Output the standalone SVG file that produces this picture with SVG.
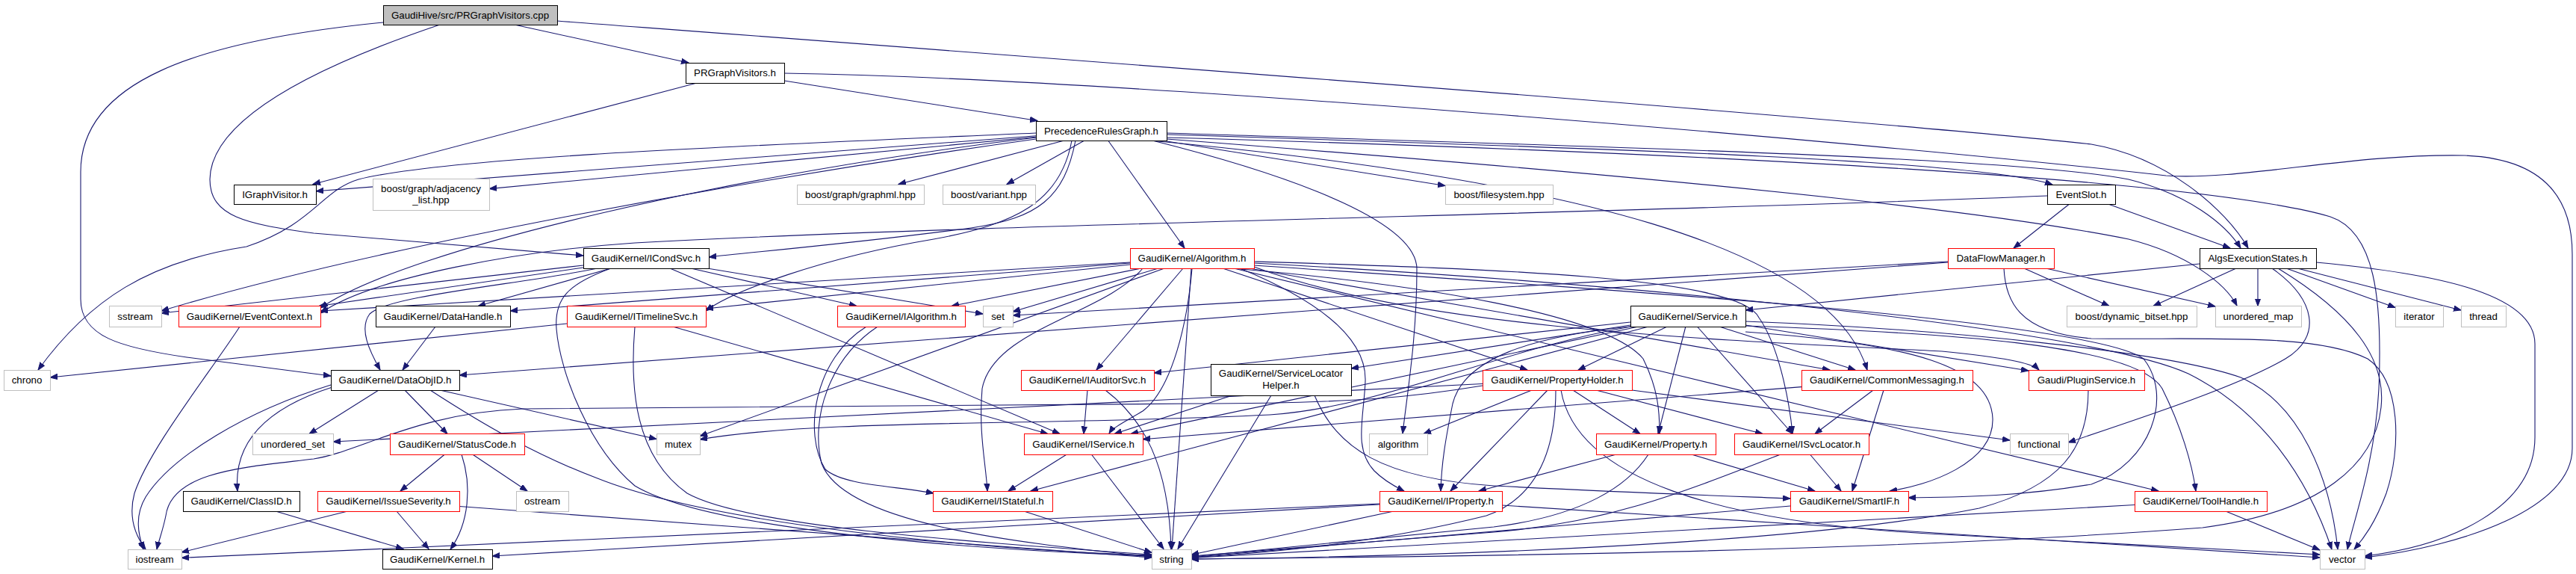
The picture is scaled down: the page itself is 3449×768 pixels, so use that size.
<svg xmlns="http://www.w3.org/2000/svg" width="3449" height="768" viewBox="0 0 3449 768">
<defs>
<marker id="arr" markerWidth="11" markerHeight="9" refX="10" refY="4" orient="auto" markerUnits="userSpaceOnUse"><path d="M0,0.3 L10,4 L0,7.7 z" fill="#191970" stroke="#191970" stroke-width="1"/></marker>
</defs>
<style>
.n rect{fill:#fff;stroke:#000;stroke-width:1}
.n.r rect{stroke:#f00}
.n.s rect{stroke:#bfbfbf}
.n.root rect{fill:#bfbfbf}
text{font-family:"Liberation Sans",Arial,Helvetica,sans-serif;font-size:13.3px;text-anchor:middle;fill:#000}
#edges path{fill:none;stroke:#191970;stroke-width:1.1;marker-end:url(#arr)}
</style>
<rect x="0" y="0" width="3449" height="768" fill="#fff"/>
<g id="edges">
<path d="M691,33.5 L922,84"/>
<path d="M513,30 C260,55 108,110 108,230 L108,400 C108,450 160,465 250,478 L443,503"/>
<path d="M589,33 C420,90 282,160 281,240 C281,290 330,300 420,312 L781,342"/>
<path d="M746,28 C1500,85 2500,160 2800,193 C2900,210 2980,280 3010,332"/>
<path d="M1050,108 L1389,161.5"/>
<path d="M933,111 L419,246.5"/>
<path d="M1050,98 C1500,105 2500,190 2900,235 C3000,242 3150,205 3300,208 C3400,212 3444,260 3444,340 L3444,600 C3444,680 3300,730 3166,746"/>
<path d="M1387,181.7 L423,255.8"/>
<path d="M1387,183.3 L655,252.6"/>
<path d="M1423,188.5 L1203,246.5"/>
<path d="M1451,188.5 L1348,246.5"/>
<path d="M1559,188.5 L1935,248.5"/>
<path d="M1562,180 C2200,200 2650,215 2748,247"/>
<path d="M1440,188 C1425,265 1390,292 1300,305 C1150,325 1000,338 949,344"/>
<path d="M1484,188.5 L1586,332"/>
<path d="M1562,178 C2100,195 2700,210 2850,240 C2930,260 2980,300 3000,332"/>
<path d="M1387,186 C1000,240 500,330 216,416"/>
<path d="M1387,184 C1000,230 550,330 429,412"/>
<path d="M1435,188 C1420,270 1360,300 1250,320 C1100,345 980,390 945,416"/>
<path d="M1562,186 C2400,250 2700,290 2850,320 C2930,340 2980,380 2995,409"/>
<path d="M1387,178 C1000,195 600,210 480,240 C430,255 420,300 330,330 C200,350 120,400 51,495"/>
<path d="M1540,188 C2100,240 2450,330 2500,495"/>
<path d="M1543,188 C1750,240 1897,300 1897,360 C1897,450 1885,520 1878,580"/>
<path d="M1562,184 C2300,205 2950,240 3120,290 C3180,310 3190,400 3185,520 C3180,620 3150,700 3143,735"/>
<path d="M2824,273.5 L2986,332"/>
<path d="M2770,273.5 L2696,332"/>
<path d="M2741,262 C2200,285 1300,300 850,325 C700,335 500,370 429,419"/>
<path d="M781,358 L427,409.5"/>
<path d="M781,355 L216,419"/>
<path d="M800,359 C700,380 520,395 495,420 C480,440 495,470 509,495"/>
<path d="M818,359 L640,409.5"/>
<path d="M925,359 L1147,409.5"/>
<path d="M947,359 L1316,420"/>
<path d="M897,359 L1419,580.5"/>
<path d="M818,359 C760,380 742,400 745,440 C750,500 790,600 850,650 C950,710 1300,735 1542,744"/>
<path d="M1513,351 L429,416"/>
<path d="M1513,352 L683,416"/>
<path d="M1513,354 L945,413"/>
<path d="M1528,359 L1274,409.5"/>
<path d="M1551,359 L1356,417"/>
<path d="M1584,359 L1468,495"/>
<path d="M1637,359 L2045,495"/>
<path d="M1673,359 L2450,495"/>
<path d="M1679,357 C1900,440 2300,455 2600,470 C2680,478 2720,485 2730,495"/>
<path d="M1559,359 L937,583.5"/>
<path d="M1596,359 C1590,430 1570,520 1530,550 C1505,565 1490,572 1485,580"/>
<path d="M1650,359 C1900,380 2150,420 2200,480 C2220,520 2222,550 2222,580"/>
<path d="M1679,350 C2000,360 2330,370 2355,425 C2380,460 2395,530 2400,580"/>
<path d="M1530,359 C1480,420 1330,440 1315,520 C1310,580 1320,620 1322,657"/>
<path d="M1660,359 C1760,400 1830,450 1828,510 C1826,560 1812,600 1840,630 C1855,645 1870,652 1880,657"/>
<path d="M1679,355 C2200,390 2800,430 2870,480 C2910,530 2880,620 2800,648 C2700,665 2620,665 2555,666"/>
<path d="M1652,359 L2890,657"/>
<path d="M1595,359 L1569,734.5"/>
<path d="M1679,352 C2200,380 2800,440 2930,500 C3030,550 3090,640 3122,735"/>
<path d="M2608,350 L1356,422"/>
<path d="M2608,351 L615,502"/>
<path d="M2710,359 L2824,409.5"/>
<path d="M2739,359 L2966,410"/>
<path d="M2683,359 C2685,400 2700,445 2800,453 C2950,455 3100,445 3170,480 C3215,510 3215,600 3195,660 C3180,700 3165,720 3152,735"/>
<path d="M2945,353 L2337,415"/>
<path d="M2994,359 L2883,409.5"/>
<path d="M3023,359 L3023,409.5"/>
<path d="M3061,359 L3207,411.5"/>
<path d="M3076,359 L3295,415"/>
<path d="M3042,359 C3100,400 3110,450 3060,480 C3000,515 2880,555 2769,592"/>
<path d="M3050,359 C3150,420 3195,480 3188,545 C3180,620 3110,685 2949,706 C2500,740 1900,745 1595,748"/>
<path d="M3101,351 C3250,365 3394,390 3394,460 L3394,585 C3394,680 3280,730 3166,744"/>
<path d="M321,437 C280,500 200,600 180,660 C172,690 180,715 195,735"/>
<path d="M583,437 L539,495"/>
<path d="M759,433 L67,505"/>
<path d="M899,436.5 L1403,580.5"/>
<path d="M850,437 C843,520 850,610 920,660 C1000,705 1300,725 1542,742"/>
<path d="M1160,437 C1090,480 1075,580 1105,628 C1130,650 1200,650 1250,660"/>
<path d="M1175,437 C1110,480 1085,560 1100,620 C1130,700 1350,725 1542,745"/>
<path d="M2183,431 L1545,499"/>
<path d="M2183,435 L1809,493"/>
<path d="M2232,437 L2113,495"/>
<path d="M2302,437 L2484,495"/>
<path d="M2337,435 L2716,496"/>
<path d="M2183,437 C2000,470 1850,545 1700,555 C1400,570 1100,560 937,588"/>
<path d="M2196,436.5 L1514,580.5"/>
<path d="M2257,436.5 L2220,580.5"/>
<path d="M2272,436.5 L2400,580.5"/>
<path d="M2209,436.5 L1380,657"/>
<path d="M2183,437 C2050,450 1960,480 1945,540 C1935,590 1930,620 1929,657"/>
<path d="M2337,444 C2560,460 2665,490 2668,560 C2670,620 2580,650 2530,657"/>
<path d="M2337,436 C2600,445 2860,460 2895,520 C2920,570 2935,620 2940,657"/>
<path d="M2337,430 C2600,440 2900,470 3000,505 C3080,540 3120,640 3130,735"/>
<path d="M507,522 L414,580.5"/>
<path d="M542,522 L599,580.5"/>
<path d="M589,522 L879,587.5"/>
<path d="M445,518 C360,545 312,590 318,657"/>
<path d="M443,515 C330,550 230,610 195,665 C180,690 185,715 192,735"/>
<path d="M576,522 C650,570 720,610 800,640 C950,700 1300,735 1542,743"/>
<path d="M1456,522 L1451,580.5"/>
<path d="M1480,522 C1530,560 1565,620 1568,735"/>
<path d="M1650,529 L1492,580.5"/>
<path d="M1760,529 C1790,600 1850,640 2000,650 C2200,660 2350,665 2397,667"/>
<path d="M1702,529 L1577,734.5"/>
<path d="M2051,522 L1906,580.5"/>
<path d="M2106,522 L2196,580.5"/>
<path d="M2137,522 L2360,580.5"/>
<path d="M2185,522 L2691,589"/>
<path d="M2072,522 L1942,657"/>
<path d="M2083,522 C2083,600 2060,665 1990,690 C1850,725 1700,740 1595,746"/>
<path d="M2090,522 C2110,640 2300,700 2600,715 C2800,725 3000,735 3106,742"/>
<path d="M1985,516 C1900,530 1820,540 1600,540 L700,547 C560,552 480,605 420,614 C330,625 230,630 222,690 C218,710 212,725 210,735"/>
<path d="M1985,513.5 L446,591"/>
<path d="M2412,517.6 L1530,587.7"/>
<path d="M2508,522 L2430,580.5"/>
<path d="M2522,522 L2480,657"/>
<path d="M2796,522 C2796,600 2760,650 2650,680 C2400,730 1900,745 1595,748"/>
<path d="M596,607.5 L536,657"/>
<path d="M632,607.5 L706,657"/>
<path d="M618,608 C632,650 628,700 603,735"/>
<path d="M1429,607.5 L1350,657"/>
<path d="M1461,607.5 L1558,734.5"/>
<path d="M2166,607.5 L1980,657"/>
<path d="M2263,607.5 L2430,657"/>
<path d="M2207,608 C2180,650 2120,690 2000,705 L1595,745"/>
<path d="M2423,607.5 L2465,657"/>
<path d="M2384,608 C2250,660 2150,700 2000,712 L1595,744"/>
<path d="M369,684 L540,734.5"/>
<path d="M465.5,684 L243,739"/>
<path d="M531,684 L574,734.5"/>
<path d="M615,677.5 L1542,746"/>
<path d="M1371,684 L1542,739.4"/>
<path d="M1847,674 L243,746.4"/>
<path d="M1847,675 L659,744"/>
<path d="M1866,684 L1595,742.3"/>
<path d="M2011,676 L3106,746"/>
<path d="M2397,677 L1595,745.7"/>
<path d="M2858,675.5 L1595,746.5"/>
<path d="M2980,684 L3106,736"/>
</g>
<g id="node1" class="n root"><rect x="513.5" y="7.5" width="233" height="26"/><text x="629.5" y="24.5">GaudiHive/src/PRGraphVisitors.cpp</text></g>
<g id="node2" class="n"><rect x="918.5" y="84.5" width="132" height="27"/><text x="984" y="102">PRGraphVisitors.h</text></g>
<g id="node3" class="n"><rect x="1387.5" y="162.5" width="175" height="26"/><text x="1474.5" y="179.5">PrecedenceRulesGraph.h</text></g>
<g id="node4" class="n"><rect x="313.5" y="247.5" width="110" height="26"/><text x="368" y="264.5">IGraphVisitor.h</text></g>
<g id="node5" class="n s"><rect x="499.5" y="239.5" width="156" height="42"/><text x="577" y="256.5">boost/graph/adjacency</text><text x="577" y="271.5">_list.hpp</text></g>
<g id="node6" class="n s"><rect x="1067.5" y="247.5" width="170" height="26"/><text x="1152" y="264.5">boost/graph/graphml.hpp</text></g>
<g id="node7" class="n s"><rect x="1262.5" y="247.5" width="124" height="26"/><text x="1324" y="264.5">boost/variant.hpp</text></g>
<g id="node8" class="n s"><rect x="1935.5" y="247.5" width="144" height="26"/><text x="2007" y="264.5">boost/filesystem.hpp</text></g>
<g id="node9" class="n"><rect x="2741.5" y="247.5" width="91" height="26"/><text x="2786.5" y="264.5">EventSlot.h</text></g>
<g id="node10" class="n"><rect x="781.5" y="332.5" width="168" height="27"/><text x="865" y="350">GaudiKernel/ICondSvc.h</text></g>
<g id="node11" class="n r"><rect x="1513.5" y="332.5" width="166" height="27"/><text x="1596" y="350">GaudiKernel/Algorithm.h</text></g>
<g id="node12" class="n r"><rect x="2608.5" y="332.5" width="142" height="27"/><text x="2679" y="350">DataFlowManager.h</text></g>
<g id="node13" class="n"><rect x="2945.5" y="332.5" width="156" height="27"/><text x="3023" y="350">AlgsExecutionStates.h</text></g>
<g id="node14" class="n s"><rect x="146.5" y="409.5" width="70" height="28"/><text x="181" y="427.5">sstream</text></g>
<g id="node15" class="n r"><rect x="239.5" y="409.5" width="190" height="28"/><text x="334" y="427.5">GaudiKernel/EventContext.h</text></g>
<g id="node16" class="n"><rect x="503.5" y="409.5" width="180" height="28"/><text x="593" y="427.5">GaudiKernel/DataHandle.h</text></g>
<g id="node17" class="n r"><rect x="759.5" y="409.5" width="186" height="28"/><text x="852" y="427.5">GaudiKernel/ITimelineSvc.h</text></g>
<g id="node18" class="n r"><rect x="1121.5" y="409.5" width="171" height="28"/><text x="1206.5" y="427.5">GaudiKernel/IAlgorithm.h</text></g>
<g id="node19" class="n s"><rect x="1316.5" y="409.5" width="40" height="28"/><text x="1336" y="427.5">set</text></g>
<g id="node20" class="n"><rect x="2183.5" y="409.5" width="154" height="28"/><text x="2260" y="427.5">GaudiKernel/Service.h</text></g>
<g id="node21" class="n s"><rect x="2767.5" y="409.5" width="174" height="28"/><text x="2854" y="427.5">boost/dynamic_bitset.hpp</text></g>
<g id="node22" class="n s"><rect x="2966.5" y="409.5" width="115" height="28"/><text x="3023.5" y="427.5">unordered_map</text></g>
<g id="node23" class="n s"><rect x="3207.5" y="409.5" width="64" height="28"/><text x="3239" y="427.5">iterator</text></g>
<g id="node24" class="n s"><rect x="3295.5" y="409.5" width="60" height="28"/><text x="3325" y="427.5">thread</text></g>
<g id="node25" class="n s"><rect x="5.5" y="495.5" width="62" height="27"/><text x="36" y="513">chrono</text></g>
<g id="node26" class="n"><rect x="443.5" y="495.5" width="172" height="27"/><text x="529" y="513">GaudiKernel/DataObjID.h</text></g>
<g id="node27" class="n r"><rect x="1367.5" y="495.5" width="178" height="27"/><text x="1456" y="513">GaudiKernel/IAuditorSvc.h</text></g>
<g id="node28" class="n"><rect x="1621.5" y="487.5" width="188" height="42"/><text x="1715" y="503.5">GaudiKernel/ServiceLocator</text><text x="1715" y="519.5">Helper.h</text></g>
<g id="node29" class="n r"><rect x="1985.5" y="495.5" width="200" height="27"/><text x="2085" y="513">GaudiKernel/PropertyHolder.h</text></g>
<g id="node30" class="n r"><rect x="2412.5" y="495.5" width="229" height="27"/><text x="2526.5" y="513">GaudiKernel/CommonMessaging.h</text></g>
<g id="node31" class="n r"><rect x="2716.5" y="495.5" width="155" height="27"/><text x="2793.5" y="513">Gaudi/PluginService.h</text></g>
<g id="node32" class="n s"><rect x="338.5" y="580.5" width="108" height="28"/><text x="392" y="598.5">unordered_set</text></g>
<g id="node33" class="n r"><rect x="522.5" y="580.5" width="180" height="28"/><text x="612" y="598.5">GaudiKernel/StatusCode.h</text></g>
<g id="node34" class="n s"><rect x="879.5" y="580.5" width="58" height="28"/><text x="908" y="598.5">mutex</text></g>
<g id="node35" class="n r"><rect x="1371.5" y="580.5" width="159" height="28"/><text x="1450.5" y="598.5">GaudiKernel/IService.h</text></g>
<g id="node36" class="n s"><rect x="1833.5" y="580.5" width="78" height="28"/><text x="1872" y="598.5">algorithm</text></g>
<g id="node37" class="n r"><rect x="2137.5" y="580.5" width="160" height="28"/><text x="2217" y="598.5">GaudiKernel/Property.h</text></g>
<g id="node38" class="n r"><rect x="2322.5" y="580.5" width="180" height="28"/><text x="2412" y="598.5">GaudiKernel/ISvcLocator.h</text></g>
<g id="node39" class="n s"><rect x="2691.5" y="580.5" width="78" height="28"/><text x="2730" y="598.5">functional</text></g>
<g id="node40" class="n"><rect x="245.5" y="657.5" width="156" height="27"/><text x="323" y="675">GaudiKernel/ClassID.h</text></g>
<g id="node41" class="n r"><rect x="425.5" y="657.5" width="190" height="27"/><text x="520" y="675">GaudiKernel/IssueSeverity.h</text></g>
<g id="node42" class="n s"><rect x="691.5" y="657.5" width="70" height="27"/><text x="726" y="675">ostream</text></g>
<g id="node43" class="n r"><rect x="1249.5" y="657.5" width="160" height="27"/><text x="1329" y="675">GaudiKernel/IStateful.h</text></g>
<g id="node44" class="n r"><rect x="1847.5" y="657.5" width="164" height="27"/><text x="1929" y="675">GaudiKernel/IProperty.h</text></g>
<g id="node45" class="n r"><rect x="2397.5" y="657.5" width="158" height="27"/><text x="2476" y="675">GaudiKernel/SmartIF.h</text></g>
<g id="node46" class="n r"><rect x="2858.5" y="657.5" width="177" height="27"/><text x="2946.5" y="675">GaudiKernel/ToolHandle.h</text></g>
<g id="node47" class="n s"><rect x="171.5" y="735.5" width="72" height="26"/><text x="207" y="752.5">iostream</text></g>
<g id="node48" class="n"><rect x="512.5" y="735.5" width="147" height="26"/><text x="585.5" y="752.5">GaudiKernel/Kernel.h</text></g>
<g id="node49" class="n s"><rect x="1542.5" y="735.5" width="53" height="26"/><text x="1568.5" y="752.5">string</text></g>
<g id="node50" class="n s"><rect x="3106.5" y="735.5" width="60" height="26"/><text x="3136" y="752.5">vector</text></g>
</svg>
